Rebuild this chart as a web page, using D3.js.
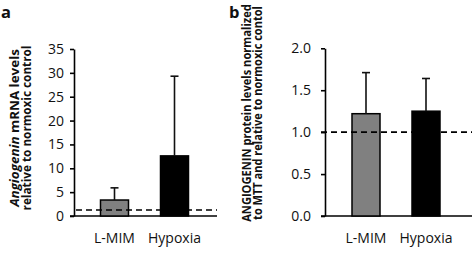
<!DOCTYPE html>
<html><head><meta charset="utf-8">
<script src="https://cdn.jsdelivr.net/npm/d3@7"></script>
<style>
body{margin:0;background:#fff;}
svg{display:block;font-family:"Open Sans",sans-serif;}
</style></head><body>
<svg id="c" width="472" height="258"></svg>
<script>
const categories = ["L-MIM", "Hypoxia"];
const mrnaValues = [3.35, 12.6];
const mrnaErrors = [5.9, 29.3];   // top of error bar
const mrnaRef = 1.25;
const mrnaTicks = [0, 5, 10, 15, 20, 25, 30, 35];
const protValues = [1.22, 1.25];
const protErrors = [1.71, 1.64];
const protRef = 1.0;
const protTicks = [0, 0.5, 1.0, 1.5, 2.0];
const barColors = ["#808080", "#000000"];

const svg = d3.select("#c");

function panel(o){
  const g = svg.append("g");
  const y = d3.scaleLinear().domain(o.domain).range([216, o.top]);
  const x = d3.scalePoint().domain(categories).range(o.centers);
  const bw = 28;
  const ya = d3.axisLeft(y).tickValues(o.ticks).tickSize(4).tickSizeOuter(0).tickPadding(o.pad).tickFormat(o.fmt);
  const yg = g.append("g").attr("transform", `translate(${o.ax},0)`).call(ya);
  yg.select(".domain").attr("stroke","#000").attr("stroke-width",1.6);
  yg.selectAll(".tick line").attr("stroke","#000").attr("stroke-width",1.6);
  yg.selectAll(".tick text").attr("font-size",14).attr("fill","#111").attr("font-family","'Open Sans',sans-serif");
  g.append("line").attr("x1",o.ax-4).attr("x2",o.xEnd).attr("y1",y(0)).attr("y2",y(0))
    .attr("stroke","#000").attr("stroke-width",1.6);
  g.selectAll("rect.bar").data(o.values).join("rect")
    .attr("x",(d,i)=>x(categories[i])-bw/2).attr("width",bw)
    .attr("y",d=>y(d)).attr("height",d=>y(0)-y(d))
    .attr("fill",(d,i)=>barColors[i]).attr("stroke","#000").attr("stroke-width",1.5);
  o.errors.forEach((e,i)=>{
    const cx = x(categories[i]);
    g.append("line").attr("x1",cx).attr("x2",cx).attr("y1",y(o.values[i])).attr("y2",y(e))
      .attr("stroke","#111").attr("stroke-width",1.6);
    g.append("line").attr("x1",cx-4).attr("x2",cx+4).attr("y1",y(e)).attr("y2",y(e))
      .attr("stroke","#111").attr("stroke-width",1.6);
  });
  g.append("line").attr("x1",o.dashStart).attr("x2",o.xEnd).attr("y1",y(o.ref)).attr("y2",y(o.ref))
    .attr("stroke","#000").attr("stroke-width",1.6).attr("stroke-dasharray","6,4");
  categories.forEach(c=>{
    g.append("text").attr("x",x(c)).attr("y",243).attr("text-anchor","middle")
      .attr("font-size",14).attr("fill","#111").text(c);
  });
  o.title.forEach((line,k)=>{
    const t = g.append("text")
      .attr("text-anchor","middle").attr("dominant-baseline","central")
      .attr("font-weight","bold").attr("font-size",o.titleSize).attr("fill","#111");
    line.forEach(seg=>{
      t.append("tspan").attr("font-style",seg.i?"italic":"normal").text(seg.t);
    });
    const L = t.node().getComputedTextLength();
    const s = o.titleLen[k] / L;
    t.attr("transform",`translate(${o.titleX[k]},${o.titleY}) rotate(-90) scale(${s},1)`);
  });
  g.append("text").attr("x",o.letterX).attr("y",17.5).attr("font-weight","bold")
    .attr("font-size",16.5).attr("fill","#111").text(o.letter);
}

panel({
  domain:[0,35], top:49, ticks:mrnaTicks, fmt:d3.format("d"), pad:6,
  centers:[114.5,174.5], ax:74, xEnd:217, dashStart:76,
  values:mrnaValues, errors:mrnaErrors, ref:mrnaRef,
  title:[[{t:"Angiogenin",i:true},{t:" mRNA levels"}],[{t:"relative to normoxic control"}]],
  titleX:[14,26], titleY:128, titleLen:[158,165], titleSize:13, letter:"a", letterX:1
});
panel({
  domain:[0,2], top:48.3, ticks:protTicks, fmt:d3.format(".1f"), pad:10,
  centers:[366,426], ax:325, xEnd:472, dashStart:321,
  values:protValues, errors:protErrors, ref:protRef,
  title:[[{t:"ANGIOGENIN protein levels normalized"}],[{t:"to MTT and relative to normoxic contol"}]],
  titleX:[246,256.5], titleY:113, titleLen:[218,214], titleSize:12, letter:"b", letterX:229
});
</script>
</body></html>
